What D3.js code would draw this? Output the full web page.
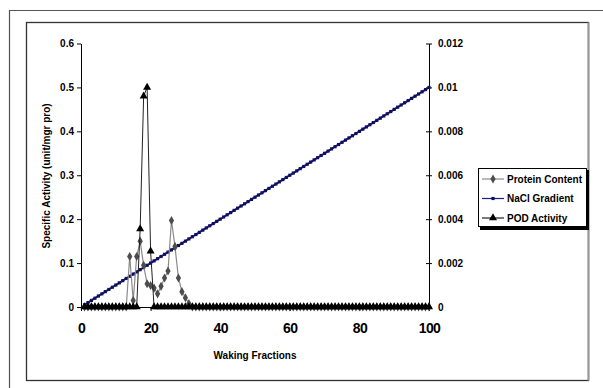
<!DOCTYPE html>
<html>
<head>
<meta charset="utf-8">
<script src="https://cdn.jsdelivr.net/npm/d3@7"></script>
<style>
  body { margin: 0; background: #fff; }
  svg { display: block; font-family: "Liberation Sans", Arial, sans-serif; }
  .axis path, .axis line { stroke: #000; }
  .axis text { font-weight: bold; fill: #000; }
</style>
</head>
<body>
<svg id="chart" width="603" height="388"></svg>
<script>
// fractions 1..100
var fractions = [
  1,2,3,4,5,6,7,8,9,10,11,12,13,14,15,16,17,18,19,20,
  21,22,23,24,25,26,27,28,29,30,31,32,33,34,35,36,37,38,39,40,
  41,42,43,44,45,46,47,48,49,50,51,52,53,54,55,56,57,58,59,60,
  61,62,63,64,65,66,67,68,69,70,71,72,73,74,75,76,77,78,79,80,
  81,82,83,84,85,86,87,88,89,90,91,92,93,94,95,96,97,98,99,100
];

var proteinContent = [
  0,0,0,0,0,0,0,0,0,0,0,0,0,0.115,0.015,0.115,0.15,0.095,0.053,0.049,
  0.043,0.03,0.047,0.066,0.082,0.197,0.138,0.066,0.035,0.021,0.008,0,0,0,0,0,0,0,0,0,
  0,0,0,0,0,0,0,0,0,0,0,0,0,0,0,0,0,0,0,0,
  0,0,0,0,0,0,0,0,0,0,0,0,0,0,0,0,0,0,0,0,
  0,0,0,0,0,0,0,0,0,0,0,0,0,0,0,0,0,0,0,0
];

// right axis
var naclGradient = [
  0.0001,0.0002,0.0003,0.0004,0.0005,0.0006,0.0007,0.0008,0.0009,0.0010,
  0.0011,0.0012,0.0013,0.0014,0.0015,0.0016,0.0017,0.0018,0.0019,0.0020,
  0.0021,0.0022,0.0023,0.0024,0.0025,0.0026,0.0027,0.0028,0.0029,0.0030,
  0.0031,0.0032,0.0033,0.0034,0.0035,0.0036,0.0037,0.0038,0.0039,0.0040,
  0.0041,0.0042,0.0043,0.0044,0.0045,0.0046,0.0047,0.0048,0.0049,0.0050,
  0.0051,0.0052,0.0053,0.0054,0.0055,0.0056,0.0057,0.0058,0.0059,0.0060,
  0.0061,0.0062,0.0063,0.0064,0.0065,0.0066,0.0067,0.0068,0.0069,0.0070,
  0.0071,0.0072,0.0073,0.0074,0.0075,0.0076,0.0077,0.0078,0.0079,0.0080,
  0.0081,0.0082,0.0083,0.0084,0.0085,0.0086,0.0087,0.0088,0.0089,0.0090,
  0.0091,0.0092,0.0093,0.0094,0.0095,0.0096,0.0097,0.0098,0.0099,0.0100
];

var podActivity = [
  0,0,0,0,0,0,0,0,0,0,0,0,0,0,0,0,0.178,0.48,0.5,0.127,
  0,0,0,0,0,0,0,0,0,0,0,0,0,0,0,0,0,0,0,0,
  0,0,0,0,0,0,0,0,0,0,0,0,0,0,0,0,0,0,0,0,
  0,0,0,0,0,0,0,0,0,0,0,0,0,0,0,0,0,0,0,0,
  0,0,0,0,0,0,0,0,0,0,0,0,0,0,0,0,0,0,0,0
];

var xTicks = [0, 20, 40, 60, 80, 100];
var yLeftTicks = [0, 0.1, 0.2, 0.3, 0.4, 0.5, 0.6];
var yRightTicks = [0, 0.002, 0.004, 0.006, 0.008, 0.01, 0.012];
var legendNames = ["Protein Content", "NaCl Gradient", "POD Activity"];

var svg = d3.select("#chart");

// outer frame (only top/left visible) and chart area frame
svg.append("path")
    .attr("d", "M9.5,388V10.5H603")
    .attr("fill", "none").attr("stroke", "#555").attr("stroke-width", 1.2);
svg.append("rect")
    .attr("x", 26.5).attr("y", 22.5).attr("width", 562).attr("height", 358)
    .attr("fill", "#fff").attr("stroke", "#333").attr("stroke-width", 1.3);
svg.append("line")
    .attr("x1", 588.5).attr("x2", 588.5).attr("y1", 22.5).attr("y2", 380.5)
    .attr("stroke", "#999").attr("stroke-width", 2);

var margin = {top: 43.5, left: 81, right: 174, bottom: 81},
    width = 603 - margin.left - margin.right,
    height = 388 - margin.top - margin.bottom;

var g = svg.append("g")
    .attr("transform", "translate(" + margin.left + "," + margin.top + ")");

var x = d3.scaleLinear().domain([0, 100]).range([0, width]);
var yL = d3.scaleLinear().domain([0, 0.6]).range([height, 0]);
var yR = d3.scaleLinear().domain([0, 0.012]).range([height, 0]);

// axes
var xAxis = g.append("g").attr("class", "axis")
    .attr("transform", "translate(0," + height + ")")
    .call(d3.axisBottom(x).tickValues(xTicks).tickSize(4).tickSizeOuter(0).tickPadding(12));
xAxis.selectAll("text").style("font-size", "14px").style("letter-spacing", "-0.6px");

var leftAxis = g.append("g").attr("class", "axis")
    .call(d3.axisLeft(yL).tickValues(yLeftTicks).tickSize(4).tickSizeOuter(0)
      .tickFormat(function(d){ return d === 0 ? "0" : d3.format(".1f")(d); }));
leftAxis.selectAll("text").style("font-size", "10px");

var rightAxis = g.append("g").attr("class", "axis")
    .attr("transform", "translate(" + width + ",0)")
    .call(d3.axisRight(yR).tickValues(yRightTicks).tickSize(3).tickSizeOuter(0).tickPadding(6)
      .tickFormat(function(d){ return d === 0 ? "0" : d3.format("")(+d.toFixed(3)); }));
rightAxis.selectAll(".tick line").attr("x1", -3);
rightAxis.selectAll("text").style("font-size", "10px");

// axis titles
svg.append("text")
    .attr("x", 255).attr("y", 359)
    .attr("text-anchor", "middle")
    .style("font-size", "10px").style("font-weight", "bold")
    .text("Waking Fractions");
svg.append("text")
    .attr("transform", "translate(50,176) rotate(-90)")
    .attr("text-anchor", "middle")
    .style("font-size", "10px").style("font-weight", "bold")
    .text("Specific Activity (unit/mgr pro)");

// series
var sym = {
  diamond: d3.symbol().type(d3.symbolDiamond).size(24),
  square: d3.symbol().type(d3.symbolSquare).size(10),
  triangle: d3.symbol().type(d3.symbolTriangle).size(28)
};

function drawSeries(values, yScale, lineColor, lineWidth, markerColor, marker) {
  var pts = fractions.map(function(f, i){ return [x(f), yScale(values[i])]; });
  g.append("path")
      .datum(pts)
      .attr("fill", "none")
      .attr("stroke", lineColor)
      .attr("stroke-width", lineWidth)
      .attr("d", d3.line());
  g.append("g").selectAll("path")
      .data(pts)
    .enter().append("path")
      .attr("transform", function(d){ return "translate(" + d[0] + "," + d[1] + ")"; })
      .attr("fill", markerColor)
      .attr("d", marker);
}

drawSeries(naclGradient, yR, "#1c1c8c", 2, "#10105a", sym.square);
drawSeries(proteinContent, yL, "#8a8a8a", 1.2, "#4d4d4d", sym.diamond);
drawSeries(podActivity, yL, "#222", 1, "#000", sym.triangle);

// legend
var legend = svg.append("g").attr("transform", "translate(478,168)");
legend.append("rect")
    .attr("x", 2).attr("y", 2).attr("width", 109).attr("height", 60)
    .attr("fill", "#000");
legend.append("rect")
    .attr("x", 0.5).attr("y", 0.5).attr("width", 108).attr("height", 58)
    .attr("fill", "#fff").attr("stroke", "#000").attr("stroke-width", 1);

var legendStyle = [
  {line: "#8a8a8a", fill: "#4d4d4d", marker: sym.diamond},
  {line: "#1c1c8c", fill: "#10105a", marker: sym.square},
  {line: "#222", fill: "#000", marker: sym.triangle}
];
legendNames.forEach(function(name, i){
  var yy = 11 + i * 19.5;
  legend.append("line")
      .attr("x1", 4).attr("x2", 26).attr("y1", yy).attr("y2", yy)
      .attr("stroke", legendStyle[i].line).attr("stroke-width", 1.2);
  legend.append("path")
      .attr("transform", "translate(15," + yy + ")")
      .attr("fill", legendStyle[i].fill)
      .attr("d", legendStyle[i].marker);
  legend.append("text")
      .attr("x", 29).attr("y", yy + 3.5)
      .style("font-size", "10px").style("font-weight", "bold")
      .text(name);
});
</script>
</body>
</html>
